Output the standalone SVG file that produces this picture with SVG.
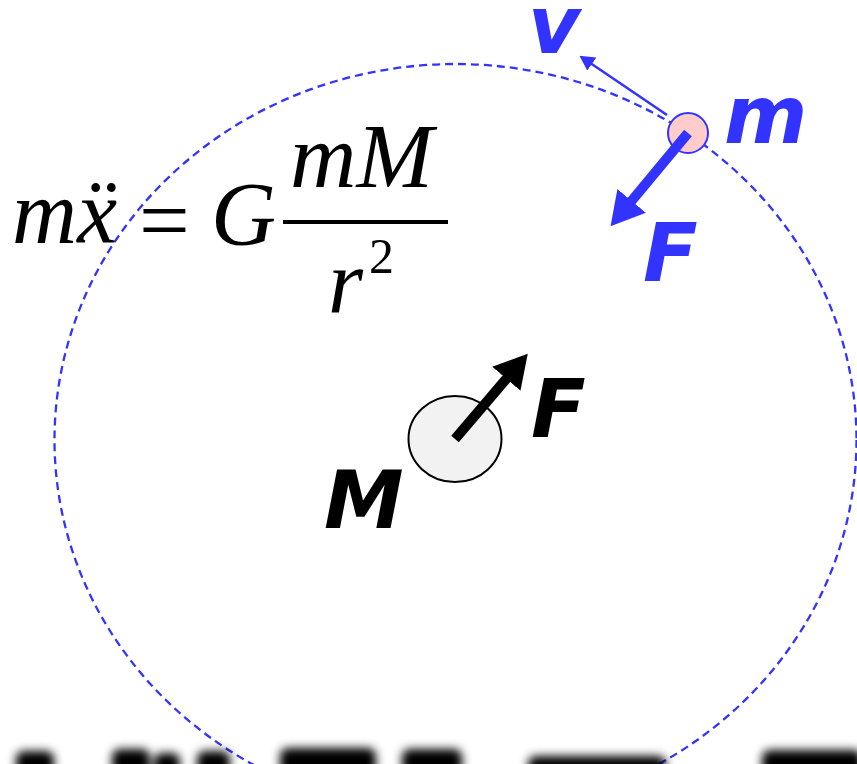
<svg xmlns="http://www.w3.org/2000/svg" width="857" height="764" viewBox="0 0 857 764">
<style>
.lbl{font-family:"DejaVu Sans",Verdana,sans-serif;font-weight:bold;font-style:italic;font-size:80px}
.blue{fill:#3333ff}
.blk{fill:#000}
.eq{font-family:"Liberation Serif","Times New Roman",serif;font-size:90px;fill:#000}
.it{font-style:italic}
</style>
<defs>
<marker id="headBlue" viewBox="0 0 33 37" refX="1" refY="18.5" markerWidth="33" markerHeight="37" markerUnits="userSpaceOnUse" orient="auto"><path d="M0,0 L33,18.5 L0,37 z" fill="#3333ff"/></marker>
<marker id="headBlack" viewBox="0 0 33 37" refX="1" refY="18.5" markerWidth="33" markerHeight="37" markerUnits="userSpaceOnUse" orient="auto"><path d="M0,0 L33,18.5 L0,37 z" fill="#000"/></marker>
<marker id="headThin" viewBox="0 0 15 16" refX="1" refY="8" markerWidth="15" markerHeight="16" markerUnits="userSpaceOnUse" orient="auto"><path d="M0,0 L15,8 L0,16 z" fill="#3333ff"/></marker>
<filter id="blur" x="-20%" y="-50%" width="140%" height="200%"><feGaussianBlur stdDeviation="5"/></filter>
</defs>
<rect width="857" height="764" fill="#fff"/>
<g id="orbit">
<ellipse cx="455.5" cy="440" rx="401" ry="376" fill="none" stroke="#3333ff" stroke-width="2.3" stroke-dasharray="8 5"/>
</g>
<g id="equation">
<text class="eq it" x="12" y="243">mẍ</text>
<text class="eq" x="139" y="251">=</text>
<text class="eq it" x="211" y="245">G</text>
<text class="eq it" x="290" y="187" style="font-size:92px">mM</text>
<rect x="283" y="220" width="165" height="4" fill="#000"/>
<text class="eq it" x="328" y="312">r</text>
<text class="eq" x="369" y="273" style="font-size:50px">2</text>
</g>
<g id="planet-M">
<ellipse cx="455" cy="439" rx="46.5" ry="43" fill="#f2f2f2" stroke="#000" stroke-width="2"/>
<text class="lbl blk" x="324" y="528">M</text>
</g>
<g id="satellite-m">
<circle cx="688" cy="133" r="20" fill="#ffcccc" stroke="#3333ff" stroke-width="2"/>
<text class="lbl blue" x="724" y="143">m</text>
</g>
<g id="connectors">
<line x1="667" y1="115" x2="591" y2="63.5" stroke="#3333ff" stroke-width="2.5" marker-end="url(#headThin)"/>
<line x1="688" y1="133" x2="631" y2="201.6" stroke="#3333ff" stroke-width="10" marker-end="url(#headBlue)"/>
<line x1="455" y1="439" x2="507" y2="378" stroke="#000" stroke-width="10" marker-end="url(#headBlack)"/>
</g>
<g id="labels">
<text class="lbl blue" x="528" y="53">v</text>
<text class="lbl blue" x="643" y="281">F</text>
<text class="lbl blk" x="531" y="437">F</text>
</g>
<g id="cutoff-text" fill="#000" filter="url(#blur)">
<rect x="16" y="751" width="38" height="24" rx="8"/>
<rect x="112" y="749" width="38" height="26" rx="8"/>
<rect x="154" y="753" width="26" height="22" rx="8"/>
<rect x="197" y="751" width="33" height="24" rx="8"/>
<rect x="280" y="748" width="96" height="27" rx="8"/>
<rect x="402" y="749" width="60" height="26" rx="8"/>
<rect x="528" y="756" width="138" height="20" rx="8"/>
<rect x="762" y="750" width="100" height="26" rx="8"/>
</g>
</svg>
